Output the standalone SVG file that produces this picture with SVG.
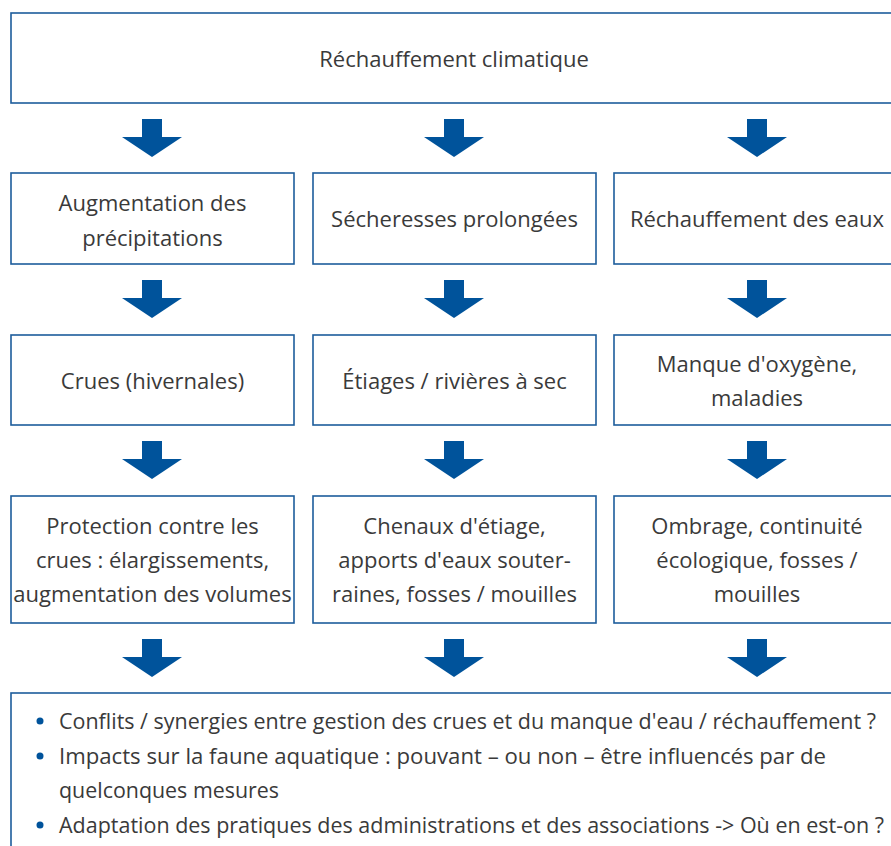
<svg xmlns="http://www.w3.org/2000/svg" width="891" height="846" viewBox="0 0 891 846">
<style>
.box{fill:#fff;stroke:#1d5d9c;stroke-width:1.6}
.t{font-family:"Open Sans","Noto Sans",sans-serif;font-size:22px;fill:#3a3a3a;text-anchor:middle}
.l{font-family:"Open Sans","Noto Sans",sans-serif;font-size:22px;fill:#3a3a3a}
.arr{fill:#00539b}
.dot{fill:#00539b}
</style>
<defs>
<path id="a" d="M-10,0 H10 V18 H30 L0,38 L-30,18 H-10 Z"/>
</defs>
<rect width="891" height="846" fill="#fff"/>
<g id="n0"><rect class="box" x="11" y="13" width="900" height="90"/><text class="t" x="454" y="67">Réchauffement climatique</text></g>
<g id="n1"><rect class="box" x="11" y="173" width="283" height="91"/><text class="t" x="152.5" y="211">Augmentation des</text><text class="t" x="152.5" y="246">précipitations</text></g>
<g id="n2"><rect class="box" x="313" y="173" width="283" height="91"/><text class="t" x="454.5" y="227">Sécheresses prolongées</text></g>
<g id="n3"><rect class="box" x="614" y="173" width="300" height="91"/><text class="t" x="757" y="227">Réchauffement des eaux</text></g>
<g id="n4"><rect class="box" x="11" y="335" width="283" height="90"/><text class="t" x="152.5" y="389">Crues (hivernales)</text></g>
<g id="n5"><rect class="box" x="313" y="335" width="283" height="90"/><text class="t" x="454.5" y="389">Étiages / rivières à sec</text></g>
<g id="n6"><rect class="box" x="614" y="335" width="300" height="90"/><text class="t" x="757" y="372">Manque d'oxygène,</text><text class="t" x="757" y="406">maladies</text></g>
<g id="n7"><rect class="box" x="11" y="496" width="283" height="127"/><text class="t" x="152.5" y="534">Protection contre les</text><text class="t" x="152.5" y="568">crues : élargissements,</text><text class="t" x="152.5" y="602">augmentation des volumes</text></g>
<g id="n8"><rect class="box" x="313" y="496" width="283" height="127"/><text class="t" x="454.5" y="534">Chenaux d'étiage,</text><text class="t" x="454.5" y="568">apports d'eaux souter-</text><text class="t" x="454.5" y="602">raines, fosses / mouilles</text></g>
<g id="n9"><rect class="box" x="614" y="496" width="300" height="127"/><text class="t" x="757" y="534">Ombrage, continuité</text><text class="t" x="757" y="568">écologique, fosses /</text><text class="t" x="757" y="602">mouilles</text></g>
<g id="n10"><rect class="box" x="11" y="693" width="900" height="200"/>
<circle class="dot" cx="40" cy="721" r="3.5"/><text class="l" x="59" y="729" textLength="817" lengthAdjust="spacingAndGlyphs">Conflits / synergies entre gestion des crues et du manque d'eau / réchauffement ?</text>
<circle class="dot" cx="40" cy="756" r="3.5"/><text class="l" x="59" y="764" textLength="767" lengthAdjust="spacingAndGlyphs">Impacts sur la faune aquatique : pouvant – ou non – être influencés par de</text>
<text class="l" x="59" y="798" textLength="220" lengthAdjust="spacingAndGlyphs">quelconques mesures</text>
<circle class="dot" cx="40" cy="825" r="3.5"/><text class="l" x="59" y="833" textLength="825" lengthAdjust="spacingAndGlyphs">Adaptation des pratiques des administrations et des associations -&gt; Où en est-on ?</text>
</g>
<g id="connectors" class="arr">
<use href="#a" x="152" y="119"/><use href="#a" x="454" y="119"/><use href="#a" x="757" y="119"/>
<use href="#a" x="152" y="280"/><use href="#a" x="454" y="280"/><use href="#a" x="757" y="280"/>
<use href="#a" x="152" y="441"/><use href="#a" x="454" y="441"/><use href="#a" x="757" y="441"/>
<use href="#a" x="152" y="639"/><use href="#a" x="454" y="639"/><use href="#a" x="757" y="639"/>
</g>
</svg>
